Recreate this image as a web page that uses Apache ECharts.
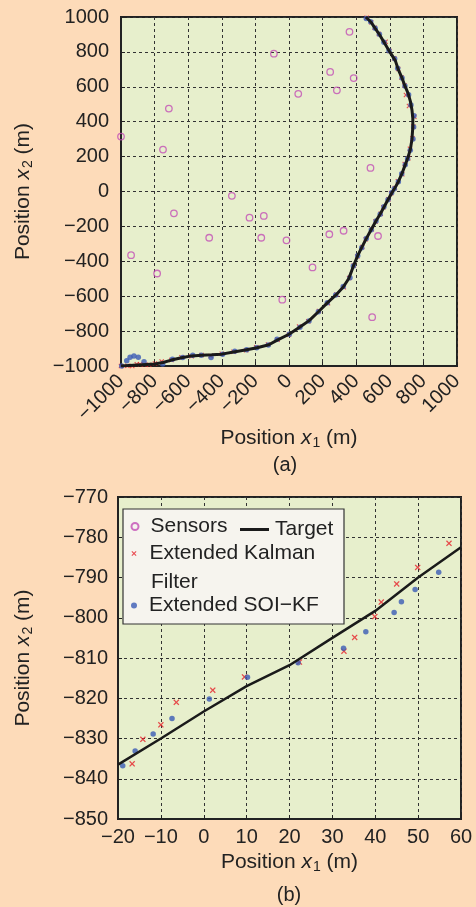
<!DOCTYPE html>
<html>
<head>
<meta charset="utf-8">
<title>Target tracking</title>
<script src="https://cdn.jsdelivr.net/npm/echarts@6.0.0/dist/echarts.min.js"></script>
<style>
html, body { margin: 0; padding: 0; background: #FDDBB9; }
#main { width: 476px; height: 907px; }
</style>
</head>
<body>
<div id="main"></div>
<script>
// ---- panel (a): whole run ----
var sensorX = [-1000, -715, -750, -90, 360, 245, 385, 285, 55, 485, -340, -685, -235,
    -150, -475, -165, -15, 240, 325, 530, -940, -785, 140, -40, 495];
var sensorY = [315, 475, 240, 790, 915, 685, 650, 580, 560, 135, -25, -125, -150,
    -140, -265, -265, -280, -245, -225, -255, -365, -470, -435, -620, -720];

var targetX = [-1000, -900, -800, -750, -700, -640, -580, -520, -460, -400, -330, -260, -190, -120, -70,
    0, 65, 120, 175, 228, 278, 323, 355, 368, 383, 409, 433, 460, 488, 516, 541, 565, 588, 612, 630,
    651, 672, 692, 708, 722, 732, 737, 737, 732, 723, 710, 690, 674, 650, 633, 600, 572, 540, 513, 490, 458];
var targetY = [-1000, -994, -988, -980, -966, -953, -942, -938, -936, -932, -920, -908, -895, -878, -852,
    -818, -777, -740, -689, -638, -594, -547, -500, -468, -428, -368, -320, -270, -221, -172, -132, -90, -49, -8, 20,
    56, 102, 154, 195, 240, 300, 370, 420, 467, 515, 560, 605, 648, 700, 750, 800, 845, 897, 935, 968, 1000];

var ekfX = [-1000, -962, -933, -906, -887, -861, -832, -798, -758, -700, -640, -580, -520, -466, -400, -330,
    -255, -195, -125, -68, 0, 60, 115, 178, 232, 282, 326, 358, 386, 406, 436, 457, 493, 515, 546, 562,
    592, 608, 630, 648, 674, 689, 710, 720, 735, 740, 746, 714, 696, 688, 670, 650, 626, 598, 575, 535,
    510, 489, 462];
var ekfY = [-1000, -998, -1000, -990, -990, -992, -993, -985, -974, -966, -950, -944, -937, -943, -930, -918,
    -910, -893, -877, -850, -821, -773, -744, -685, -640, -590, -548, -496, -424, -372, -318, -273, -216, -172, -128, -90,
    -44, -10, 20, 59, 99, 158, 190, 245, 305, 372, 429, 490, 553, 608, 653, 702, 764, 805, 858, 903,
    938, 970, 995];

var soiX = [-996, -966, -946, -923, -897, -863, -752, -694, -633, -573, -522, -464, -395, -323, -252, -192,
    -123, -71, 2, 65, 119, 175, 228, 278, 323, 363, 383, 409, 433, 460, 490, 518, 543, 565, 589, 611,
    627, 651, 671, 692, 706, 722, 738, 742, 744, 726, 712, 690, 673, 647, 629, 595, 565, 538, 513, 486, 460];
var soiY = [-1000, -970, -950, -943, -950, -975, -989, -962, -952, -939, -939, -952, -933, -916, -907, -895,
    -880, -847, -818, -778, -742, -689, -637, -593, -545, -494, -427, -368, -322, -270, -219, -169, -131, -87, -47, -7,
    16, 56, 102, 154, 188, 236, 301, 370, 434, 496, 555, 605, 650, 706, 761, 807, 855, 901, 935, 973, 992];

// ---- panel (b): close-up near the start ----
var targetBX = [-20, -10, 0, 10, 20, 30, 40, 50, 60];
var targetBY = [-836.5, -830, -823.3, -817, -811.8, -805, -798.3, -790, -782.5];

var ekfBX = [-16.7, -14.2, -10, -6.4, 2.1, 9.5, 22.3, 32.7, 35.2, 39.9, 41.4, 45, 49.9, 57.2];
var ekfBY = [-836.3, -830.2, -826.6, -821, -818, -814.7, -811, -808.3, -804.9, -799.7, -796.1, -791.6, -787.5, -781.5];

var soiBX = [-18.9, -16, -11.8, -7.4, 1.3, 10.2, 22, 32.6, 37.8, 44.4, 46.1, 49.3, 54.8];
var soiBY = [-836.8, -833.1, -828.9, -825, -820.2, -814.8, -811.2, -807.6, -803.5, -798.7, -796, -793, -788.7];

var FONT = '"Liberation Sans", Arial, Helvetica, sans-serif';
var INK = '#222';
var RED = '#E62129', BLUE = '#3B5BB5', PINK = '#C34FB5';
var CROSS = 'path://M0,1.5L1.5,0L5,3.5L8.5,0L10,1.5L6.5,5L10,8.5L8.5,10L5,6.5L1.5,10L0,8.5L3.5,5Z';

function pts(xs, ys) {
    return xs.map(function (x, i) { return [x, ys[i]]; });
}
function minus(v) {
    return String(v).replace('-', '\u2212');
}

var nameStyle = {
    fontFamily: FONT, fontSize: 21, color: INK,
    rich: {
        n: { fontFamily: FONT, fontSize: 21, color: INK },
        i: { fontFamily: FONT, fontSize: 21, color: INK, fontStyle: 'italic' },
        s: { fontFamily: FONT, fontSize: 14, color: INK, verticalAlign: 'bottom', padding: [10, 0, 0, 1] }
    }
};

function axis(grid, min, max, step, sub, gap, rotate, margin) {
    return {
        gridIndex: grid, type: 'value', min: min, max: max, interval: step,
        name: '{n|Position }{i|x}{s|' + sub + '}{n| (m)}',
        nameLocation: 'middle', nameGap: gap, nameTextStyle: nameStyle,
        axisLine: { onZero: false, lineStyle: { color: INK, width: 2 } },
        axisTick: { inside: true, length: 4, lineStyle: { color: INK } },
        axisLabel: { rotate: rotate, margin: margin, fontSize: 20, fontFamily: FONT, color: INK, formatter: minus },
        splitLine: { show: true, lineStyle: { color: '#333', width: 1, type: [3, 3] } }
    };
}

function legendStyle(pad) {
    return { fontSize: 21, fontFamily: FONT, color: INK, padding: [0, 0, 0, pad] };
}

var chart = echarts.init(document.getElementById('main'));
chart.setOption({
    animation: false,
    backgroundColor: '#FDDBB9',
    grid: [
        { left: 121, top: 17, width: 336, height: 349, show: true, backgroundColor: '#E7EFCC', borderColor: INK, borderWidth: 2 },
        { left: 118, top: 497, width: 343, height: 322, show: true, backgroundColor: '#E7EFCC', borderColor: INK, borderWidth: 2 }
    ],
    xAxis: [
        axis(0, -1000, 1000, 200, 1, 56, 45, 12),
        axis(1, -20, 60, 10, 1, 31, 0, 8)
    ],
    yAxis: [
        axis(0, -1000, 1000, 200, 2, 86, 0, 12),
        axis(1, -850, -770, 10, 2, 83, 0, 10)
    ],
    legend: [
        { data: ['Sensors'], left: 130.5, top: 516, itemWidth: 7, itemHeight: 7, textStyle: legendStyle(7) },
        { data: [{ name: 'Target', icon: 'rect' }], left: 240, top: 519, itemWidth: 29, itemHeight: 3,
          textStyle: legendStyle(1) },
        { data: ['Extended Kalman Filter'], left: 131.5, top: 543, itemWidth: 5, itemHeight: 5,
          textStyle: legendStyle(8), formatter: function () { return 'Extended Kalman'; } },
        { data: ['Extended SOI\u2212KF'], left: 131, top: 595, itemWidth: 6, itemHeight: 6, textStyle: legendStyle(7) }
    ].map(function (l) {
        l.padding = 0;
        l.z = 200;
        l.selectedMode = false;
        return l;
    }),
    graphic: [
        { type: 'rect', z: 100, shape: { x: 123, y: 509, width: 221, height: 115 },
          style: { fill: '#F6F4EE', stroke: '#333', lineWidth: 1.2 } },
        { type: 'text', z: 101, x: 151, y: 582,
          style: { text: 'Filter', fontSize: 21, fontFamily: FONT, fill: INK, verticalAlign: 'middle' } },
        { type: 'text', z: 101, x: 285, y: 465,
          style: { text: '(a)', fontSize: 20, fontFamily: FONT, fill: INK, align: 'center', verticalAlign: 'middle' } },
        { type: 'text', z: 101, x: 289, y: 895,
          style: { text: '(b)', fontSize: 20, fontFamily: FONT, fill: INK, align: 'center', verticalAlign: 'middle' } }
    ],
    series: [
        {
            name: 'Sensors', type: 'scatter', xAxisIndex: 0, yAxisIndex: 0,
            symbol: 'circle', symbolSize: 6.5,
            itemStyle: { color: 'rgba(0,0,0,0)', borderColor: PINK, borderWidth: 1.3 },
            data: pts(sensorX, sensorY)
        },
        {
            name: 'Target', type: 'line', xAxisIndex: 0, yAxisIndex: 0, symbol: 'none',
            itemStyle: { color: '#1a1a1a' },
            lineStyle: { color: '#1a1a1a', width: 3 },
            data: pts(targetX, targetY)
        },
        {
            name: 'Extended Kalman Filter', type: 'scatter', xAxisIndex: 0, yAxisIndex: 0,
            symbol: CROSS, symbolSize: 5, itemStyle: { color: RED },
            data: pts(ekfX, ekfY)
        },
        {
            name: 'Extended SOI\u2212KF', type: 'scatter', xAxisIndex: 0, yAxisIndex: 0,
            symbol: 'circle', symbolSize: 5.5, itemStyle: { color: BLUE },
            data: pts(soiX, soiY)
        },
        {
            name: 'Target', type: 'line', xAxisIndex: 1, yAxisIndex: 1, symbol: 'none',
            itemStyle: { color: '#1a1a1a' },
            lineStyle: { color: '#1a1a1a', width: 2.5 },
            data: pts(targetBX, targetBY)
        },
        {
            name: 'Extended Kalman Filter', type: 'scatter', xAxisIndex: 1, yAxisIndex: 1,
            symbol: CROSS, symbolSize: 6, itemStyle: { color: RED },
            data: pts(ekfBX, ekfBY)
        },
        {
            name: 'Extended SOI\u2212KF', type: 'scatter', xAxisIndex: 1, yAxisIndex: 1,
            symbol: 'circle', symbolSize: 5.5, itemStyle: { color: BLUE },
            data: pts(soiBX, soiBY)
        }
    ]
});
</script>
</body>
</html>
